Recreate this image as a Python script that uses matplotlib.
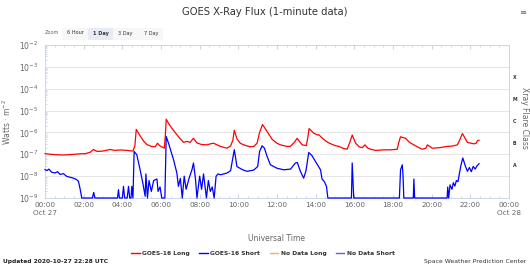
import matplotlib
matplotlib.use("Agg")
import matplotlib.pyplot as plt
from matplotlib.lines import Line2D
from matplotlib.patches import Rectangle
import numpy as np

# ---------------- data ----------------
# time in hours UTC on 2020-10-27, flux in W/m^2
long_hours = [0.0, 0.3, 0.6, 1.0, 1.4, 1.8, 2.1, 2.35, 2.5, 2.7, 3.0, 3.37, 3.6, 3.9, 4.23, 4.55,
              4.65, 4.72, 4.85, 4.95, 5.1, 5.27, 5.5, 5.7, 5.82, 5.95, 6.17, 6.22, 6.27, 6.4, 6.55,
              6.82, 7.0, 7.17, 7.34, 7.5, 7.68, 7.86, 8.1, 8.38, 8.55, 8.72, 9.07, 9.41, 9.6, 9.72,
              9.79, 9.93, 10.1, 10.28, 10.6, 10.8, 10.97, 11.1, 11.25, 11.49, 11.75, 12.0, 12.18,
              12.5, 12.69, 12.9, 13.04, 13.3, 13.52, 13.6, 13.66, 13.9, 14.1, 14.16, 14.33, 14.5,
              14.68, 15.0, 15.2, 15.4, 15.63, 15.75, 15.89, 16.06, 16.25, 16.41, 16.55, 16.7, 16.84,
              17.1, 17.53, 17.9, 18.22, 18.3, 18.39, 18.65, 18.85, 19.08, 19.3, 19.52, 19.7, 19.78,
              20.03, 20.4, 20.81, 21.1, 21.33, 21.45, 21.59, 21.85, 22.19, 22.3, 22.37, 22.45]
long_flux = [1.07e-7, 1.0e-7, 9.5e-8, 9.3e-8, 9.8e-8, 1.05e-7, 1.07e-7, 1.26e-7, 1.66e-7, 1.35e-7,
             1.41e-7, 1.66e-7, 1.51e-7, 1.58e-7, 1.51e-7, 1.41e-7,
             2.5e-7, 1.38e-6, 8.9e-7, 6.3e-7, 4.0e-7, 2.8e-7, 2.3e-7, 2.2e-7, 3.2e-7, 2.4e-7,
             1.9e-7, 6.3e-7, 4.0e-6, 2.5e-6, 1.6e-6,
             7.9e-7, 5.0e-7, 3.5e-7, 3.9e-7, 3.5e-7, 5.4e-7, 3.3e-7, 2.8e-7, 2.7e-7, 3.0e-7,
             3.2e-7, 2.3e-7, 1.9e-7, 2.4e-7, 4.5e-7,
             1.26e-6, 5.0e-7, 3.2e-7, 2.7e-7, 2.2e-7, 2.3e-7, 3.2e-7, 1.0e-6, 2.3e-6, 1.1e-6,
             4.8e-7, 3.2e-7, 2.7e-7,
             2.3e-7, 2.3e-7, 3.5e-7, 5.4e-7, 2.7e-7, 2.5e-7, 6.3e-7, 1.5e-6, 9.3e-7, 7.6e-7,
             7.9e-7, 5.6e-7, 4.2e-7,
             3.3e-7, 2.5e-7, 2.3e-7, 1.9e-7, 1.7e-7, 3.2e-7, 7.6e-7, 3.3e-7, 2.2e-7, 2.0e-7,
             2.7e-7, 1.9e-7, 1.7e-7,
             1.5e-7, 1.6e-7, 1.6e-7, 1.7e-7, 3.5e-7, 6.3e-7, 5.4e-7, 3.5e-7, 2.7e-7, 2.1e-7,
             1.7e-7, 1.9e-7, 2.7e-7,
             1.9e-7, 2.0e-7, 2.3e-7, 2.4e-7, 2.7e-7, 4.5e-7, 8.9e-7, 3.5e-7, 3.0e-7, 3.2e-7,
             4.2e-7, 4.4e-7]

short_hours = [0.0, 0.1, 0.2, 0.35, 0.52, 0.65, 0.78, 0.95, 1.12, 1.3, 1.47, 1.64, 1.73, 1.82, 1.9,
               2.45, 2.52, 2.58, 3.75, 3.8, 3.85, 4.0, 4.06, 4.12, 4.25, 4.32, 4.38, 4.45, 4.49,
               4.55, 4.61, 4.75, 4.92, 5.06, 5.18, 5.22, 5.3, 5.38, 5.5, 5.62, 5.79, 5.85, 5.95,
               6.04, 6.2, 6.27, 6.39, 6.65, 6.82, 6.9, 7.0, 7.1, 7.2, 7.3, 7.45, 7.6, 7.68, 7.78,
               7.86, 8.0, 8.1, 8.2, 8.35, 8.45, 8.55, 8.65, 8.75, 8.85, 8.95, 9.07, 9.41, 9.6,
               9.79, 9.93, 10.2, 10.45, 10.8, 11.0, 11.1, 11.23, 11.35, 11.49, 11.66, 12.0, 12.2,
               12.35, 12.7, 12.95, 13.05, 13.21, 13.38, 13.5, 13.64, 13.8, 13.99, 14.15, 14.25,
               14.33, 14.45, 14.56, 14.63, 15.85, 15.89, 15.97, 18.33, 18.39, 18.48, 18.52,
               18.56, 19.05, 19.08, 19.12, 20.8, 20.83, 20.88, 20.95, 21.05, 21.12, 21.2, 21.28,
               21.36, 21.5, 21.61, 21.75, 21.85, 21.95, 22.05, 22.15, 22.25, 22.35, 22.45]
short_flux = [2.0e-8, 1.8e-8, 2.1e-8, 1.5e-8, 1.4e-8, 1.6e-8, 1.2e-8, 1.3e-8, 9.8e-9, 8.9e-9,
              8.1e-9, 6.9e-9, 5.8e-9, 2.5e-9, 1e-9,
              1e-9, 1.8e-9, 1e-9, 1e-9, 2.4e-9, 1e-9, 1e-9, 3.4e-9, 1e-9, 1e-9, 3.4e-9, 1e-9,
              1e-9, 3.4e-9,
              1e-9, 1.35e-7, 9.5e-8, 1.95e-8, 4.8e-9, 1.2e-9, 1.26e-8, 1e-9, 6.3e-9, 2.0e-9,
              6.3e-9, 7.4e-9, 2.0e-9, 3.2e-9,
              1e-9, 1e-9, 6.5e-7, 3.2e-7, 5.6e-8, 1.4e-8, 3.4e-9, 7.9e-9, 1e-9, 1.0e-8, 2.5e-9,
              7.9e-9, 1.95e-8, 4.0e-8, 7.9e-9,
              1e-9, 1.0e-8, 2.5e-9, 1.26e-8, 1e-9, 6.3e-9, 2.0e-9, 3.2e-9, 1e-9, 1.0e-8,
              1.26e-8, 1.15e-8, 1.38e-8, 1.78e-8,
              1.62e-7, 2.75e-8, 2.0e-8, 1.66e-8, 1.9e-8, 2.75e-8, 1.35e-7, 2.45e-7, 1.9e-7,
              7.9e-8, 3.3e-8, 2.3e-8, 2.1e-8,
              1.95e-8, 2.1e-8, 4.0e-8, 4.2e-8, 1.66e-8, 8.1e-9, 1.78e-8, 1.2e-7, 8.9e-8, 4.7e-8,
              2.8e-8, 1.95e-8,
              7.4e-9, 5.6e-9, 3.4e-9, 1e-9, 1e-9, 4.0e-8, 1e-9, 1e-9, 1.95e-8, 3.3e-8, 1.0e-8,
              1e-9, 1e-9, 7.4e-9, 1e-9, 1e-9, 3.2e-9, 1e-9, 4.0e-9, 2.5e-9, 5.0e-9, 3.5e-9,
              6.3e-9,
              5.6e-9, 2.75e-8, 6.8e-8, 2.75e-8, 1.66e-8, 2.5e-8, 1.6e-8, 2.8e-8, 2.1e-8, 3.0e-8,
              3.7e-8]

x_tick_hours = [0, 2, 4, 6, 8, 10, 12, 14, 16, 18, 20, 22, 24]
x_tick_labels = ["00:00\nOct 27", "02:00", "04:00", "06:00", "08:00", "10:00", "12:00",
                 "14:00", "16:00", "18:00", "20:00", "22:00", "00:00\nOct 28"]
y_decades = [-9, -8, -7, -6, -5, -4, -3, -2]
flare_classes = ["A", "B", "C", "M", "X"]
flare_class_pos = [10**-7.5, 10**-6.5, 10**-5.5, 10**-4.5, 10**-3.5]
legend_names = ["GOES-16 Long", "GOES-16 Short", "No Data Long", "No Data Short"]
legend_colors = ["#ff0000", "#0000ff", "#f7b24a", "#7f52c8"]
zoom_buttons = ["6 Hour", "1 Day", "3 Day", "7 Day"]

# ---------------- figure ----------------
W, H = 530, 266
fig = plt.figure(figsize=(W / 100, H / 100), dpi=100)
plt.rcParams['font.family'] = ['DejaVu Sans']

L, R, T, B = 45, 509, 45, 198
ax = fig.add_axes([L / W, 1 - B / H, (R - L) / W, (B - T) / H])
ax.set_yscale("log")
ax.set_xlim(0, 24)
ax.set_ylim(1e-9, 1e-2)

ax.plot(long_hours, long_flux, color=legend_colors[0], lw=0.9, clip_on=False, zorder=3)
ax.plot(short_hours, short_flux, color=legend_colors[1], lw=0.9, clip_on=False, zorder=3)

# grid
for d in y_decades:
    ax.axhline(10.0 ** d, color="#e6e6e6", lw=0.7, zorder=1)
for s in ax.spines.values():
    s.set_color("#ccd6eb")
    s.set_linewidth(0.7)

ax.set_yticks([10.0 ** d for d in y_decades])
ax.set_yticklabels([r"$10^{%d}$" % d for d in y_decades])
ax.set_xticks(x_tick_hours)
ax.set_xticklabels(x_tick_labels)
ax.set_xticks(np.arange(0, 24.01, 0.5), minor=True)
ax.tick_params(axis="x", which="major", direction="in", length=3, color="#ccd6eb",
               labelsize=5.2, labelcolor="#666666", pad=3, top=True)
ax.tick_params(axis="x", which="minor", direction="in", length=1.5, color="#ccd6eb", top=True)
ax.tick_params(axis="y", which="major", direction="in", length=0, labelsize=5.5,
               labelcolor="#666666", pad=5)
ax.tick_params(axis="y", which="minor", direction="in", length=1.5, color="#ccd6eb",
               labelleft=False)
for lbl in ax.get_xticklabels():
    lbl.set_linespacing(1.3)

ax.set_xlabel("Universal Time", fontsize=5.5, color="#666666", labelpad=13)
ax.set_ylabel("Watts · m$^{-2}$", fontsize=5.5, color="#666666", labelpad=4)

# right flare class labels
for c, p in zip(flare_classes, flare_class_pos):
    ax.text(1.008, p, c, transform=ax.get_yaxis_transform(), fontsize=3.4,
            fontweight="bold", color="#333333", ha="left", va="center")
fig.text(524 / W, 1 - 118 / H, "Xray Flare Class", rotation=270, fontsize=5.5,
         color="#666666", ha="center", va="center")

# title
fig.text(265 / W, 1 - 12 / H, "GOES X-Ray Flux (1-minute data)", fontsize=7.2,
         color="#333333", ha="center", va="center")
fig.text(523 / W, 1 - 12 / H, "≡", fontsize=6, color="#666666", ha="center", va="center")

# zoom buttons
fig.text(45 / W, 1 - 33 / H, "Zoom", fontsize=3.6, color="#666666", ha="left", va="center")
fig.patches.append(Rectangle((62 / W, 1 - 39.5 / H), 101 / W, 12 / H, transform=fig.transFigure,
                             facecolor="#f7f7f7", edgecolor="none"))
btn_x = [75, 100.5, 125.5, 151]
for name, bx in zip(zoom_buttons, btn_x):
    sel = name == "1 Day"
    if sel:
        fig.patches.append(Rectangle(((bx - 12.5) / W, 1 - 39.5 / H), 25 / W, 12 / H,
                                     transform=fig.transFigure, facecolor="#e6ebf5",
                                     edgecolor="none"))
    fig.text(bx / W, 1 - 33 / H, name, fontsize=3.6, color="#333333", ha="center",
             va="center", fontweight="bold" if sel else "normal")

# legend
handles = [Line2D([], [], color=c, lw=1.0) for c in legend_colors]
fig.legend(handles, legend_names, loc="center", bbox_to_anchor=(263 / W, 1 - 253 / H),
           ncol=4, frameon=False, prop={"size": 4.3, "weight": "bold"}, handlelength=1.4,
           handletextpad=0.4, columnspacing=1.6, labelcolor="#333333")

fig.text(3 / W, 1 - 261 / H, "Updated 2020-10-27 22:28 UTC", fontsize=4.3, fontweight="bold",
         color="#222222", ha="left", va="center")
fig.text(526 / W, 1 - 262 / H, "Space Weather Prediction Center", fontsize=4.4,
         color="#333333", ha="right", va="center")

fig.savefig("out.png", dpi=100)
